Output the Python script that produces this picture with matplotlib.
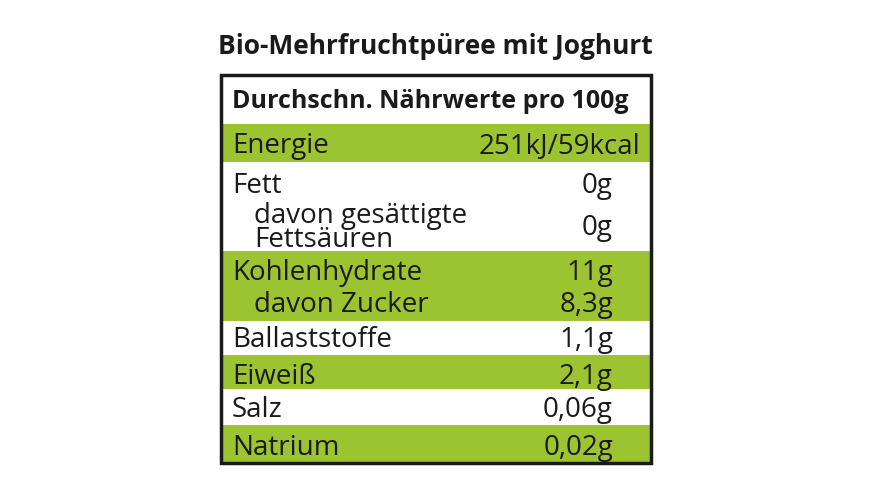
import matplotlib
matplotlib.use("Agg")
import matplotlib.pyplot as plt
from matplotlib.patches import Rectangle

title = "Bio-Mehrfruchtpüree mit Joghurt"
header = "Durchschn. Nährwerte pro 100g"
labels = ["Energie", "Fett", "davon gesättigte\nFettsäuren", "Kohlenhydrate", "davon Zucker",
          "Ballaststoffe", "Eiweiß", "Salz", "Natrium"]
values = ["251kJ/59kcal", "0g", "0g", "11g", "8,3g", "1,1g", "2,1g", "0,06g", "0,02g"]
indent = [False, False, True, False, True, False, False, False, False]
# row text centers (pixels)
text_y = [146, 186, 228, 273, 305, 340, 377, 410, 448]

# green bands (top, bottom) in pixels
bands = [(125, 163), (252, 322), (356, 390), (426, 463)]

GREEN = "#9cc431"
plt.rcParams["font.family"] = ["Open Sans", "DejaVu Sans"]

fig = plt.figure(figsize=(8.7, 4.89), dpi=100)
ax = fig.add_axes([0, 0, 1, 1])
ax.set_xlim(0, 870)
ax.set_ylim(489, 0)
ax.axis("off")

for top, bot in bands:
    ax.add_patch(Rectangle((221, top), 430, bot - top, color=GREEN, lw=0))
ax.add_patch(Rectangle((221, 76), 430, 388, fill=False, ec="#1a1a1a", lw=2.5))

ax.text(435, 47, title, ha="center", va="center", fontsize=19, fontweight="bold", color="#1a1a1a")
ax.text(232, 102, header, ha="left", va="center", fontsize=18, fontweight="bold", color="#1a1a1a")

for lab, val, ind, y in zip(labels, values, indent, text_y):
    x = 254 if ind else 232
    ax.text(x, y, lab, ha="left", va="center", fontsize=20, color="#1a1a1a", linespacing=0.78)
    xr = 640 if val.endswith("kcal") else 613
    ax.text(xr, y, val, ha="right", va="center", fontsize=20, color="#1a1a1a")

fig.savefig("out.png", dpi=100)
